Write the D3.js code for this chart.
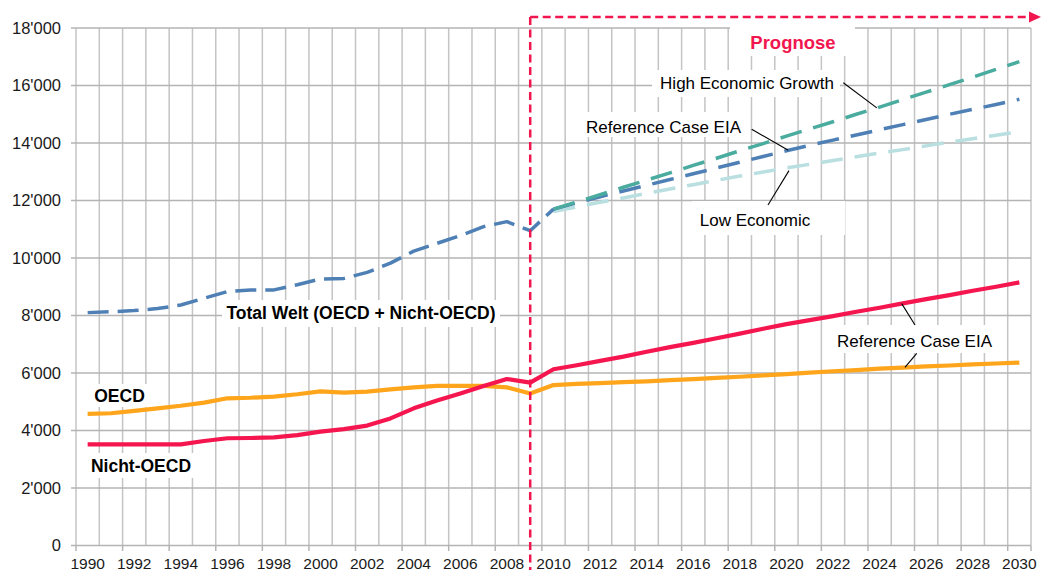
<!DOCTYPE html>
<html>
<head>
<meta charset="utf-8">
<script src="https://cdn.jsdelivr.net/npm/d3@7"></script>
<style>
  html, body { margin: 0; padding: 0; background: #fff; }
  svg { display: block; font-family: Arial, "Liberation Sans", sans-serif; }
</style>
</head>
<body>
<svg id="chart" width="1045" height="572"></svg>
<script>
// ---------- DATA ----------
const years = [1990,1991,1992,1993,1994,1995,1996,1997,1998,1999,2000,2001,2002,2003,2004,2005,2006,2007,2008,2009,2010,
               2011,2012,2013,2014,2015,2016,2017,2018,2019,2020,2021,2022,2023,2024,2025,2026,2027,2028,2029,2030];
const histYears = [1990,1991,1992,1993,1994,1995,1996,1997,1998,1999,2000,2001,2002,2003,2004,2005,2006,2007,2008,2009,2010];
const forecastYears = [2010,2011,2012,2013,2014,2015,2016,2017,2018,2019,2020,2021,2022,2023,2024,2025,2026,2027,2028,2029,2030];
const xTickLabels = [1990,1992,1994,1996,1998,2000,2002,2004,2006,2008,2010,2012,2014,2016,2018,2020,2022,2024,2026,2028,2030];
const yTickValues = [0,2000,4000,6000,8000,10000,12000,14000,16000,18000];
const prognoseStartYear = 2009;

// OECD (1990-2030)
const oecd = [4575,4600,4680,4770,4860,4970,5120,5140,5180,5260,5360,5320,5350,5430,5500,5550,5550,5550,5500,5290,5580,
              5620,5650,5680,5710,5750,5790,5830,5870,5920,5960,6010,6060,6100,6150,6190,6230,6260,6300,6330,6360];
// Nicht-OECD (1990-2030)
const nichtOecd = [3520,3520,3520,3520,3520,3635,3730,3740,3760,3840,3960,4050,4170,4420,4770,5040,5290,5550,5790,5665,6130,
                   6270,6420,6570,6740,6900,7050,7210,7370,7540,7700,7840,7980,8130,8270,8420,8570,8710,8860,9000,9150];
// Total Welt (1990-2010)
const totalWelt = [8100,8130,8170,8240,8365,8600,8830,8890,8890,9070,9270,9290,9500,9820,10240,10510,10780,11090,11265,10950,11700];
// Forecasts (2010-2030)
const highGrowth = [11700,11950,12200,12460,12710,12960,13220,13470,13730,13980,14240,14490,14740,15000,15250,15510,15770,16030,16290,16560,16830];
const referenceCase = [11700,11920,12130,12330,12530,12730,12930,13130,13330,13530,13730,13920,14100,14280,14460,14640,14820,15000,15170,15340,15520];
const lowGrowth = [11620,11780,11940,12090,12250,12400,12550,12700,12850,12990,13130,13260,13390,13520,13650,13770,13900,14030,14150,14270,14390];

// ---------- LAYOUT ----------
const svg = d3.select("#chart");
const plot = { left: 76, right: 1031, top: 28, bottom: 545.5 };
const FONT = 'Arial, "Liberation Sans", sans-serif';

const x = d3.scaleBand().domain(years).range([plot.left, plot.right]).padding(0);
const bw = x.bandwidth();
const cx = yr => x(yr) + bw / 2;
const cxFrac = yf => x(years[0]) + bw / 2 + (yf - years[0]) * bw;
const y = d3.scaleLinear().domain([0, 18000]).range([plot.bottom, plot.top]);

const fmt = d3.formatLocale({ decimal: ".", thousands: "'", grouping: [3], currency: ["", ""] }).format(",");

// ---------- GRID ----------
const gridG = svg.append("g");
const boundaries = years.map(yr => x(yr)).concat([plot.right]);
gridG.selectAll("line.v").data(boundaries).enter().append("line")
  .attr("x1", d => d).attr("x2", d => d)
  .attr("y1", plot.top).attr("y2", plot.bottom)
  .attr("stroke", "#c4c4c4").attr("stroke-width", 1.5);
gridG.selectAll("line.h").data(yTickValues).enter().append("line")
  .attr("x1", plot.left - 5).attr("x2", plot.right)
  .attr("y1", d => y(d)).attr("y2", d => y(d))
  .attr("stroke", "#b4b4b4").attr("stroke-width", 1.5);

// x tick marks (every second category boundary + right edge)
const tickBounds = boundaries.filter((d, i) => i % 2 === 0 || i === boundaries.length - 1);
gridG.selectAll("line.xt").data(tickBounds).enter().append("line")
  .attr("x1", d => d).attr("x2", d => d)
  .attr("y1", plot.bottom).attr("y2", plot.bottom + 5.5)
  .attr("stroke", "#b4b4b4").attr("stroke-width", 1.5);

// ---------- AXES ----------
const yAxis = svg.append("g").attr("transform", `translate(${plot.left},0)`)
  .call(d3.axisLeft(y).tickValues(yTickValues).tickSize(0).tickPadding(15).tickFormat(fmt));
yAxis.select(".domain").remove();
yAxis.selectAll("text").attr("font-size", "16.5px").attr("font-family", FONT).attr("fill", "#1a1a1a");

const xAxis = svg.append("g").attr("transform", `translate(0,${plot.bottom})`)
  .call(d3.axisBottom(x).tickValues(xTickLabels).tickSize(0).tickPadding(12.5));
xAxis.select(".domain").remove();
xAxis.selectAll("text").attr("font-size", "15.5px").attr("font-family", FONT).attr("fill", "#1a1a1a");

// ---------- LABEL BOXES (white backgrounds over grid) ----------
const labels = [
  { t: "Prognose", x: 793, y: 48.5, size: 18.5, weight: "bold", fill: "#f2164f", box: [730, 26, 125, 30] },
  { t: "High Economic Growth", x: 747, y: 89, size: 17, weight: "normal", fill: "#000", box: [652, 70, 188, 27] },
  { t: "Reference Case EIA", x: 663.5, y: 132.7, size: 17, weight: "normal", fill: "#000", box: [580, 112, 166, 25] },
  { t: "Low Economic", x: 755, y: 226, size: 17, weight: "normal", fill: "#000", box: [692, 201, 153, 34] },
  { t: "Reference Case EIA", x: 914.5, y: 346.5, size: 17, weight: "normal", fill: "#000", box: [830, 325, 170, 28] },
  { t: "Total Welt (OECD + Nicht-OECD)", x: 361, y: 318.5, size: 17.5, weight: "bold", fill: "#000", box: [222, 300, 278, 27] },
  { t: "OECD", x: 119.5, y: 401.5, size: 17.5, weight: "bold", fill: "#000", box: [88, 384, 64, 23] },
  { t: "Nicht-OECD", x: 141, y: 471.5, size: 17.5, weight: "bold", fill: "#000", box: [85, 453, 112, 25] }
];
svg.append("g").selectAll("rect").data(labels).enter().append("rect")
  .attr("x", d => d.box[0]).attr("y", d => d.box[1])
  .attr("width", d => d.box[2]).attr("height", d => d.box[3])
  .attr("fill", "#fff");

// ---------- LINES ----------
const lineGen = (yrs) => d3.line().x((d, i) => cx(yrs[i])).y(d => y(d));

const seriesDefs = [
  { data: oecd, yrs: years, color: "#ffa51c", w: 4.2, dash: null },
  { data: nichtOecd, yrs: years, color: "#f5164f", w: 4.2, dash: null },
  { data: lowGrowth, yrs: forecastYears, color: "#b9dfe0", w: 3.5, dash: "22,12" },
  { data: referenceCase, yrs: forecastYears, color: "#4e80b5", w: 3.5, dash: "22,12" },
  { data: highGrowth, yrs: forecastYears, color: "#4aab9f", w: 3.5, dash: "22,12" },
  { data: totalWelt, yrs: histYears, color: "#4e80b5", w: 3.5, dash: "21,9" }
];
svg.append("g").selectAll("path").data(seriesDefs).enter().append("path")
  .attr("d", d => lineGen(d.yrs)(d.data))
  .attr("fill", "none")
  .attr("stroke", d => d.color)
  .attr("stroke-width", d => d.w)
  .attr("stroke-dasharray", d => d.dash)
  .attr("stroke-linejoin", "round");

// ---------- PROGNOSE MARKER ----------
const red = "#f2164f";
const px0 = cx(prognoseStartYear);
const pg = svg.append("g");
pg.append("line").attr("x1", px0).attr("x2", px0).attr("y1", 17).attr("y2", 570)
  .attr("stroke", red).attr("stroke-width", 2.5).attr("stroke-dasharray", "8,4.5");
pg.append("line").attr("x1", px0).attr("x2", 1030).attr("y1", 17).attr("y2", 17)
  .attr("stroke", red).attr("stroke-width", 2.5).attr("stroke-dasharray", "8,4.5");
pg.append("path").attr("d", `M1041,17 L1029,11.5 L1029,22.5 Z`).attr("fill", red);

// ---------- LEADER LINES ----------
const leaders = [
  { from: [843.3, 82.7], toYear: 2023.88, series: highGrowth, yrs: forecastYears },
  { from: [751.7, 129.3], toYear: 2020.08, series: referenceCase, yrs: forecastYears },
  { from: [768, 205], toYear: 2020.11, series: lowGrowth, yrs: forecastYears, off: 3 },
  { from: [915, 325], toYear: 2024.95, series: nichtOecd, yrs: years },
  { from: [916.7, 353.3], toYear: 2025.09, series: oecd, yrs: years }
];
function interp(series, yrs, yf) {
  const i = Math.min(Math.floor(yf - yrs[0]), yrs.length - 2);
  const t = yf - yrs[i];
  return series[i] + (series[i + 1] - series[i]) * t;
}
svg.append("g").selectAll("line").data(leaders).enter().append("line")
  .attr("x1", d => d.from[0]).attr("y1", d => d.from[1])
  .attr("x2", d => cxFrac(d.toYear))
  .attr("y2", d => y(interp(d.series, d.yrs, d.toYear)) + (d.off || 0))
  .attr("stroke", "#000").attr("stroke-width", 1.1);

// ---------- LABEL TEXT ----------
svg.append("g").selectAll("text").data(labels).enter().append("text")
  .attr("x", d => d.x).attr("y", d => d.y)
  .attr("text-anchor", "middle")
  .attr("font-family", FONT)
  .attr("font-size", d => d.size + "px")
  .attr("font-weight", d => d.weight)
  .attr("fill", d => d.fill)
  .text(d => d.t);
</script>
</body>
</html>
